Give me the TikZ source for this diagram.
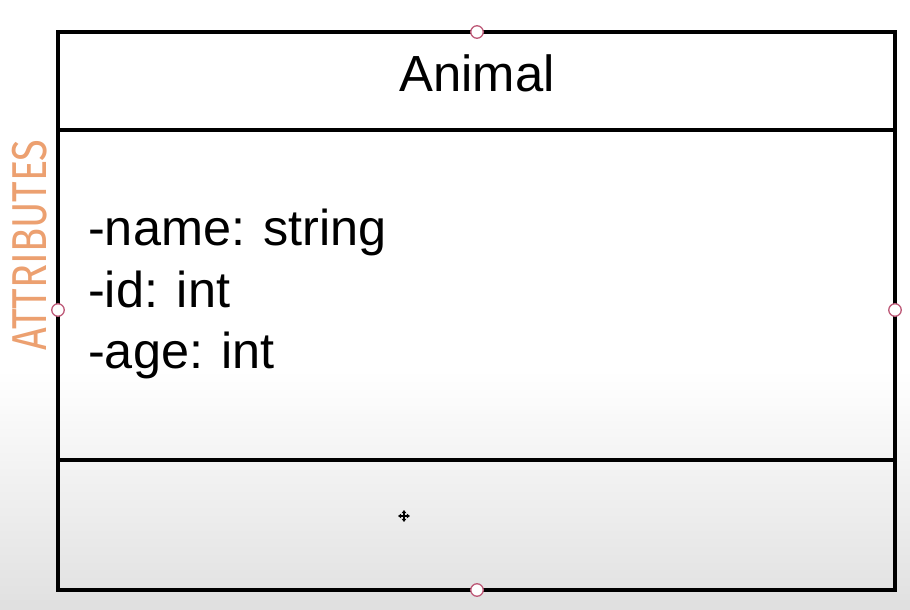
\documentclass[tikz,border=0pt]{standalone}
\usepackage{fontspec}
\setmainfont{Liberation Sans}
\newfontfamily\labelfont{Fira Sans}
\usetikzlibrary{arrows.meta}
\definecolor{attrorange}{RGB}{236,160,112}
\definecolor{handlepink}{RGB}{190,90,120}
\begin{document}
\begin{tikzpicture}[x=1pt,y=-1pt,
  classline/.style={line width=3.6pt},
  handle/.style={circle,draw=handlepink,fill=white,line width=1.3pt,inner sep=0pt,minimum size=12.5pt},
  bodytext/.style={font=\fontsize{50.4}{61}\selectfont,inner sep=0pt,anchor=base west},
  titletext/.style={font=\fontsize{50.8}{61}\selectfont,inner sep=0pt,anchor=base},
  cursor/.style={line width=1.6pt,-{Triangle[length=3.2pt,width=4.5pt]}}]
\useasboundingbox (0,0) rectangle (910,610);
\fill[white] (0,0) rectangle (910,610);
\shade[top color=white,bottom color=black!12] (0,370) rectangle (910,610);
\fill[black!12] (0,600) rectangle (910,610);
% class box
\coordinate (tl) at (58,32);
\coordinate (br) at (895,590);
\coordinate (d1l) at (58,130);
\coordinate (d1r) at (895,130);
\coordinate (d2l) at (58,460);
\coordinate (d2r) at (895,460);
\draw[classline] (tl) rectangle (br);
\draw[classline] (d1l) -- (d1r);
\draw[classline] (d2l) -- (d2r);
% texts
\node[titletext] (title) at (477,92) {Animal};
\node[bodytext] (a1) at (88,245) {-name: string};
\node[bodytext] (a2) at (88,307) {-id: int};
\node[bodytext] (a3) at (88,368) {-age: int};
\node[rotate=90,inner sep=0pt,text=attrorange,font=\labelfont\fontsize{49}{49}\selectfont] (lbl) at (30,245) {\scalebox{0.81}[1]{ATTRIBUTES}};
% handles
\node[handle] (h1) at (477,32) {};
\node[handle] (h2) at (58,310) {};
\node[handle] (h3) at (895,310) {};
\node[handle] (h4) at (477,590) {};
% move cursor
\coordinate (c) at (404,516);
\coordinate (cu) at (404,510);
\coordinate (cd) at (404,522);
\coordinate (cl) at (398,516);
\coordinate (cr) at (410,516);
\draw[cursor] (c) -- (cu);
\draw[cursor] (c) -- (cd);
\draw[cursor] (c) -- (cl);
\draw[cursor] (c) -- (cr);
\end{tikzpicture}
\end{document}
